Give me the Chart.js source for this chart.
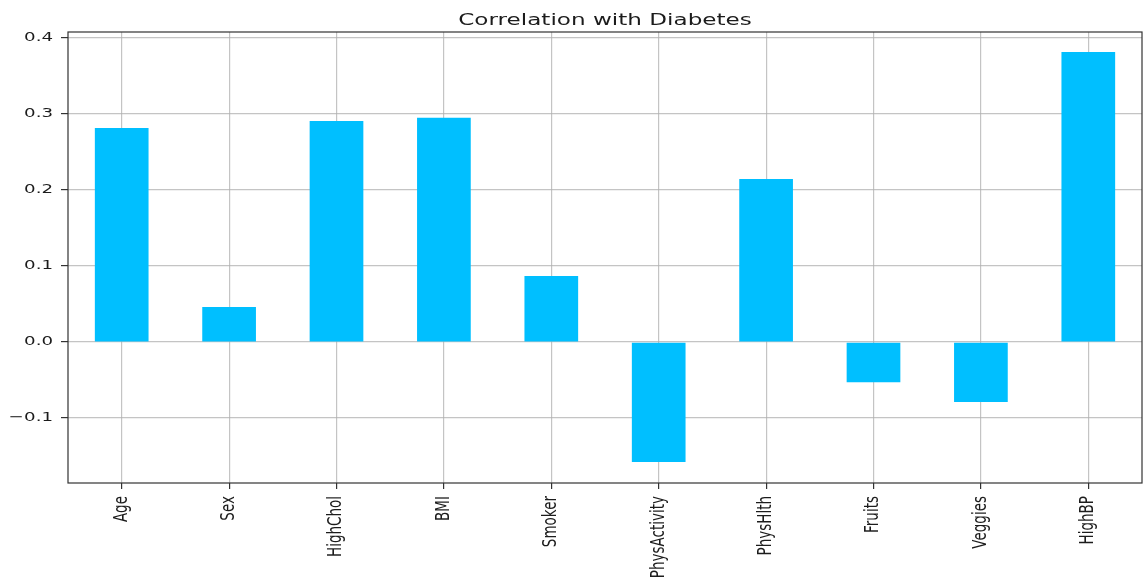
<!DOCTYPE html>
<html>
<head>
<meta charset="utf-8">
<script src="https://cdn.jsdelivr.net/npm/chart.js@4"></script>
<style>
  html, body { margin: 0; padding: 0; background: #fff; }
  #wrap { width: 1143px; height: 580px; }
</style>
</head>
<body>
<div id="wrap"><canvas id="corrChart" width="1143" height="580"></canvas></div>
<script>
const features = ['Age', 'Sex', 'HighChol', 'BMI', 'Smoker', 'PhysActivity', 'PhysHlth', 'Fruits', 'Veggies', 'HighBP'];
const correlations = [0.2816, 0.046, 0.291, 0.295, 0.087, -0.158, 0.2145, -0.053, -0.079, 0.3816];
const yTicks = [-0.1, 0.0, 0.1, 0.2, 0.3, 0.4];
const chartTitle = 'Correlation with Diabetes';

const FONT = "'DejaVu Sans', sans-serif";
const STRETCH = 1.4; // the source picture is stretched sideways, text included
const TEXT_COLOR = '#1c1c1c';

const fmt = v => v.toFixed(1).replace('-', '\u2212');

// frame on all sides, and all the text drawn with the same sideways stretch
const framePlugin = {
  id: 'frame',
  afterDraw(chart) {
    const { ctx, chartArea: a, scales } = chart;
    ctx.save();
    ctx.strokeStyle = '#333';
    ctx.lineWidth = 1.2;
    ctx.strokeRect(a.left, a.top, a.right - a.left, a.bottom - a.top);
    ctx.fillStyle = TEXT_COLOR;

    // title
    ctx.save();
    ctx.translate((a.left + a.right) / 2, 25);
    ctx.scale(STRETCH, 1);
    ctx.font = '16.5px ' + FONT;
    ctx.textAlign = 'center';
    ctx.textBaseline = 'alphabetic';
    ctx.fillText(chartTitle, 0, 0);
    ctx.restore();

    // y tick labels
    yTicks.forEach(v => {
      ctx.save();
      ctx.translate(a.left - 15, scales.y.getPixelForValue(v));
      ctx.scale(STRETCH, 1);
      ctx.font = '13px ' + FONT;
      ctx.textAlign = 'right';
      ctx.textBaseline = 'middle';
      ctx.fillText(fmt(v), 0, 0);
      ctx.restore();
    });

    // x tick labels, rotated
    features.forEach((name, i) => {
      ctx.save();
      ctx.translate(scales.x.getPixelForValue(i), a.bottom + 13);
      ctx.scale(STRETCH, 1);
      ctx.rotate(-Math.PI / 2);
      ctx.font = '13.5px ' + FONT;
      ctx.textAlign = 'right';
      ctx.textBaseline = 'middle';
      ctx.fillText(name, 0, 0);
      ctx.restore();
    });
    ctx.restore();
  }
};

const ctx = document.getElementById('corrChart').getContext('2d');
new Chart(ctx, {
  type: 'bar',
  data: {
    labels: features,
    datasets: [{
      data: correlations,
      backgroundColor: '#00BFFF',
      borderWidth: 0,
      barPercentage: 0.5,
      categoryPercentage: 1.0
    }]
  },
  options: {
    responsive: false,
    animation: false,
    layout: { padding: { top: 32, right: 1, left: 0, bottom: 0 } },
    plugins: {
      legend: { display: false },
      title: { display: false },
      tooltip: { enabled: false }
    },
    scales: {
      x: {
        z: 1,
        offset: true,
        grid: {
          offset: false,
          color: 'rgba(176,176,176,0.75)',
          lineWidth: 1.2,
          tickColor: '#333',
          tickLength: 6
        },
        border: { display: false },
        ticks: { display: false },
        afterFit(scale) { scale.height = 97; }
      },
      y: {
        z: 1,
        min: -0.1855,
        max: 0.408,
        afterBuildTicks(scale) {
          scale.ticks = yTicks.map(v => ({ value: v }));
        },
        grid: {
          color: 'rgba(176,176,176,0.75)',
          lineWidth: 1.2,
          tickColor: '#333',
          tickLength: 7
        },
        border: { display: false },
        ticks: { display: false },
        afterFit(scale) { scale.width = 68; }
      }
    }
  },
  plugins: [framePlugin]
});
</script>
</body>
</html>
